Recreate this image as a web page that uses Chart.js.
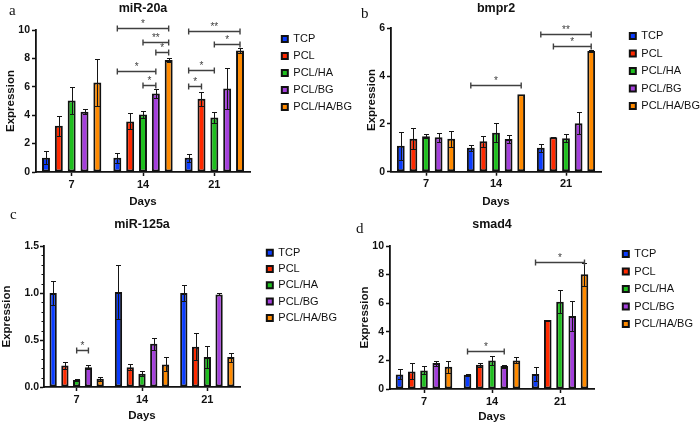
<!DOCTYPE html>
<html>
<head>
<meta charset="utf-8">
<script src="https://cdn.jsdelivr.net/npm/chart.js@4.4.1/dist/chart.umd.min.js"></script>
<style>
  html, body { margin: 0; padding: 0; background: #fff; }
  body { width: 700px; height: 424px; position: relative; overflow: hidden; }
  canvas { position: absolute; }
</style>
</head>
<body>
<canvas id="chart-a"></canvas>
<canvas id="chart-b"></canvas>
<canvas id="chart-c"></canvas>
<canvas id="chart-d"></canvas>
<script>
var days = ['7', '14', '21'];
var groups = ['TCP', 'PCL', 'PCL/HA', 'PCL/BG', 'PCL/HA/BG'];
var groupColors = ['#0a3cff', '#ff2a00', '#1fbf1f', '#a43fdc', '#ff8a00'];

// mean per group, one value per day (7, 14, 21)
var mir20aMean = [[1.0, 1.0, 1.0], [3.26, 3.56, 5.15], [5.03, 4.05, 3.84], [4.24, 5.53, 5.88], [6.3, 7.89, 8.55]];
var mir20aSd = [[0.45, 0.35, 0.3], [0.7, 0.56, 0.47], [0.95, 0.22, 0.4], [0.19, 0.3, 1.42], [1.64, 0.14, 0.16]];
// [day, from group, to group, height, label]
var mir20aStars = [[1, 0, 4, 10.16, '*'], [1, 2, 4, 9.18, '**'], [1, 3, 4, 8.43, '*'], [1, 0, 3, 7.1, '*'], [1, 2, 3, 6.14, '*'],
                   [2, 0, 4, 9.93, '**'], [2, 2, 4, 9.04, '*'], [2, 0, 2, 7.19, '*'], [2, 0, 1, 6.07, '*']];

var bmpr2Mean = [[1.09, 1.0, 1.0], [1.38, 1.27, 1.44], [1.48, 1.63, 1.40], [1.44, 1.37, 2.03], [1.38, 3.24, 5.05]];
var bmpr2Sd = [[0.58, 0.12, 0.16], [0.45, 0.24, 0.03], [0.08, 0.39, 0.16], [0.19, 0.16, 0.46], [0.34, 0, 0.04]];
var bmpr2Stars = [[1, 0, 4, 3.63, '*'], [2, 0, 4, 5.75, '**'], [2, 1, 4, 5.26, '*']];

var mir125aMean = [[1.0, 1.01, 1.0], [0.23, 0.21, 0.427], [0.074, 0.14, 0.318], [0.21, 0.46, 0.985], [0.088, 0.24, 0.318]];
var mir125aSd = [[0.13, 0.29, 0.087], [0.04, 0.03, 0.145], [0.014, 0.026, 0.12], [0.02, 0.066, 0.01], [0.022, 0.074, 0.049]];
var mir125aStars = [[0, 2, 3, 0.39, '*']];

var smad4Mean = [[1.02, 1.0, 1.05], [1.23, 1.70, 4.83], [1.30, 2.0, 6.1], [1.81, 1.60, 5.1], [1.56, 2.0, 8.02]];
var smad4Sd = [[0.35, 0.07, 0.47], [0.56, 0.14, 0], [0.28, 0.33, 0.82], [0.17, 0.10, 1.07], [0.42, 0.21, 0.8]];
var smad4Stars = [[1, 0, 3, 2.67, '*'], [2, 0, 4, 8.9, '*']];

var family = '"Liberation Sans", Arial, Helvetica, sans-serif';
Chart.defaults.font.family = family;
Chart.defaults.color = '#111';

var errorBars = {
    id: 'errorBars',
    afterDatasetsDraw(chart, args, opts) {
        var ctx = chart.ctx, y = chart.scales.y;
        ctx.save();
        ctx.strokeStyle = '#151515';
        ctx.lineWidth = 1;
        chart.data.datasets.forEach((ds, i) => {
            chart.getDatasetMeta(i).data.forEach((bar, j) => {
                var sd = opts.sd[i][j];
                if (!sd) return;
                var m = ds.data[j];
                var x = Math.round(bar.x) + 0.5;
                var top = Math.round(y.getPixelForValue(m + sd)) + 0.5;
                var bot = Math.round(y.getPixelForValue(Math.max(m - sd, 0))) + 0.5;
                ctx.beginPath();
                ctx.moveTo(x, top); ctx.lineTo(x, bot);
                ctx.moveTo(x - 2.5, top); ctx.lineTo(x + 2.5, top);
                ctx.moveTo(x - 2.5, bot); ctx.lineTo(x + 2.5, bot);
                ctx.stroke();
            });
        });
        ctx.restore();
    }
};

var brackets = {
    id: 'brackets',
    afterDraw(chart, args, opts) {
        var ctx = chart.ctx, y = chart.scales.y;
        ctx.save();
        ctx.strokeStyle = '#404040';
        ctx.fillStyle = '#404040';
        ctx.lineWidth = 1.4;
        ctx.font = '10px ' + family;
        ctx.textAlign = 'center';
        ctx.textBaseline = 'alphabetic';
        opts.marks.forEach(m => {
            var x1 = chart.getDatasetMeta(m[1]).data[m[0]].x;
            var x2 = chart.getDatasetMeta(m[2]).data[m[0]].x;
            var yy = Math.round(y.getPixelForValue(m[3])) + 0.5;
            ctx.beginPath();
            ctx.moveTo(x1, yy); ctx.lineTo(x2, yy);
            ctx.moveTo(x1, yy - 3); ctx.lineTo(x1, yy + 3);
            ctx.moveTo(x2, yy - 3); ctx.lineTo(x2, yy + 3);
            ctx.stroke();
            ctx.fillText(m[4], (x1 + x2) / 2, yy - 1.5);
        });
        // panel letter
        ctx.fillStyle = '#111';
        ctx.font = '15px "Liberation Serif", "DejaVu Serif", serif';
        ctx.textAlign = 'left';
        ctx.fillText(opts.letter[0], opts.letter[1], opts.letter[2]);
        ctx.restore();
    }
};

var minorTicks = {
    id: 'minorTicks',
    afterDraw(chart, args, opts) {
        if (!opts.step) return;
        var ctx = chart.ctx, y = chart.scales.y, x0 = chart.chartArea.left;
        var n = Math.round(y.max / opts.step);
        ctx.save();
        ctx.strokeStyle = '#111';
        ctx.lineWidth = 1;
        ctx.beginPath();
        for (var k = 1; k < n; k++) {
            if (k % opts.every === 0) continue;
            var py = Math.round(y.getPixelForValue(k * opts.step)) + 0.5;
            ctx.moveTo(x0 - 2.5, py); ctx.lineTo(x0, py);
        }
        ctx.stroke();
        ctx.restore();
    }
};

var measure = document.createElement('canvas').getContext('2d');
measure.font = 'normal 11px ' + family;
var legendTextW = measure.measureText('PCL/HA/BG').width;

function makeChart(p) {
    var canvas = document.getElementById(p.id);
    var cw = Math.round(p.boxX - p.cx + 6 + 5.5 + legendTextW + 10);
    var ch = Math.round(p.B + p.H - p.cy);
    var H = ch - (p.B - p.cy);
    canvas.width = cw;
    canvas.height = ch;
    canvas.style.left = p.cx + 'px';
    canvas.style.top = p.cy + 'px';

    var datasets = groups.map((g, i) => ({
        label: g,
        data: p.mean[i],
        backgroundColor: groupColors[i],
        borderColor: '#111',
        borderWidth: 2,
        borderSkipped: false,
        categoryPercentage: 0.9,
        barPercentage: 0.62
    }));

    return new Chart(canvas.getContext('2d'), {
        type: 'bar',
        data: { labels: days, datasets: datasets },
        plugins: [errorBars, brackets, minorTicks],
        options: {
            responsive: false,
            animation: false,
            devicePixelRatio: 1,
            events: [],
            layout: { padding: 0 },
            scales: {
                x: {
                    grid: { offset: false, drawOnChartArea: false, tickLength: 4, tickColor: '#111', tickWidth: 1.5 },
                    border: { color: '#111', width: 1.8 },
                    ticks: { padding: 2, font: { size: 11, weight: 'bold' } },
                    title: { display: true, text: 'Days', font: { size: 11.5, weight: 'bold' }, padding: { top: 0, bottom: 0 } },
                    afterFit: s => { s.height = H; }
                },
                y: {
                    min: 0,
                    max: p.yMax,
                    grid: { drawOnChartArea: false, tickLength: 4, tickColor: '#111', tickWidth: 1.5 },
                    border: { color: '#111', width: 1.8 },
                    ticks: {
                        stepSize: p.yStep,
                        padding: p.tickPad,
                        font: { size: 10.5, weight: 'bold' },
                        callback: v => p.decimals ? v.toFixed(p.decimals) : v
                    },
                    title: { display: true, text: 'Expression', font: { size: 11.5, weight: 'bold' }, padding: { top: p.yTitlePad, bottom: 0 } },
                    afterFit: s => { s.width = p.L - p.cx; }
                },
                gap: {
                    axis: 'y',
                    type: 'linear',
                    position: 'right',
                    grid: { display: false },
                    border: { display: false },
                    ticks: { display: false },
                    afterFit: s => { s.width = s.chart.width - s.chart.legend.width - (p.R - p.cx); }
                }
            },
            plugins: {
                tooltip: { enabled: false },
                title: {
                    display: true,
                    text: p.title,
                    fullSize: false,
                    color: '#111',
                    font: { size: 12.5, weight: 'bold' },
                    padding: { top: p.tPad, bottom: p.T - p.cy - p.tPad - 15 }
                },
                legend: {
                    position: 'right',
                    align: 'start',
                    fullSize: true,
                    maxWidth: 300,
                    title: { display: true, text: '', font: { size: 10 }, padding: { top: p.legFirst - 5.5 - p.legPad - p.cy - 12, bottom: 0 } },
                    labels: { boxWidth: 6, boxHeight: 6, padding: p.legPad, color: '#111', font: { size: 11 } }
                },
                errorBars: { sd: p.sd },
                brackets: { marks: p.stars, letter: p.letter },
                minorTicks: { step: p.minorStep || 0, every: 5 }
            }
        }
    });
}

makeChart({ id: 'chart-a', title: 'miR-20a', mean: mir20aMean, sd: mir20aSd, stars: mir20aStars, yMax: 10, yStep: 2,
    cx: 0, cy: 0, L: 36, R: 250, T: 30, B: 172, H: 36.6, tPad: 1, yTitlePad: 3.6, tickPad: 2,
    boxX: 282, legPad: 6, legFirst: 39, letter: ['a', 9, 15] });

makeChart({ id: 'chart-b', title: 'bmpr2', mean: bmpr2Mean, sd: bmpr2Sd, stars: bmpr2Stars, yMax: 6, yStep: 2,
    cx: 358, cy: 0, L: 391, R: 601, T: 28.3, B: 171.7, H: 36.9, tPad: 1, yTitlePad: 6.6, tickPad: 2,
    boxX: 630, legPad: 6.5, legFirst: 36, letter: ['b', 3, 18] });

makeChart({ id: 'chart-c', title: 'miR-125a', mean: mir125aMean, sd: mir125aSd, stars: mir125aStars, yMax: 1.5, yStep: 0.5, decimals: 1, minorStep: 0.1,
    cx: 0, cy: 212, L: 44, R: 240, T: 246, B: 387, H: 35.9, tPad: 5, yTitlePad: 0, tickPad: 1,
    boxX: 266.7, legPad: 5.3, legFirst: 252.7, letter: ['c', 10, 7] });

makeChart({ id: 'chart-d', title: 'smad4', mean: smad4Mean, sd: smad4Sd, stars: smad4Stars, yMax: 10, yStep: 2,
    cx: 354, cy: 212, L: 390, R: 594, T: 246, B: 389, H: 34.9, tPad: 5, yTitlePad: 3.6, tickPad: 2,
    boxX: 622.7, legPad: 6.5, legFirst: 254, letter: ['d', 2, 21] });
</script>
</body>
</html>
